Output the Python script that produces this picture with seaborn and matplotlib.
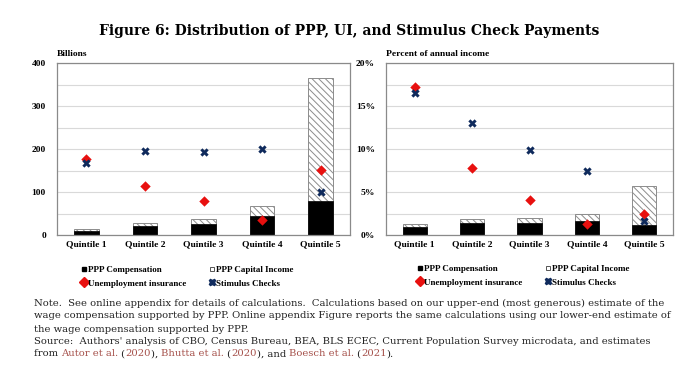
import numpy as np
import matplotlib
matplotlib.use("Agg")
import matplotlib.pyplot as plt
import seaborn as sns
from matplotlib.lines import Line2D
from matplotlib.ticker import MultipleLocator, FuncFormatter
from matplotlib.text import Annotation

# data
quintiles = ["Quintile 1", "Quintile 2", "Quintile 3", "Quintile 4", "Quintile 5"]

# left panel, billions
ppp_comp_bn = [8.5, 20, 26, 44, 78]
ppp_total_bn = [14, 27, 37, 67, 366]
ui_bn = [177, 115, 78, 36, 152]
stim_bn = [168, 195, 192, 201, 100]

# right panel, percent of annual income
ppp_comp_pct = [0.9, 1.35, 1.35, 1.65, 1.2]
ppp_total_pct = [1.3, 1.85, 1.95, 2.5, 5.7]
ui_pct = [17.2, 7.75, 4.05, 1.3, 2.4]
stim_pct = [16.5, 13.0, 9.9, 7.5, 1.6]

legend_labels = ["PPP Compensation", "Unemployment insurance",
                 "PPP Capital Income", "Stimulus Checks"]

RED = "#e8100f"
NAVY = "#0f2a5c"
HATCH_GRAY = "#8c8c8c"
TICK_FONT = "Liberation Serif"
TEXT_FONT = "DejaVu Serif"

sns.set_style("white")
plt.rcParams["hatch.linewidth"] = 0.7
plt.rcParams["hatch.color"] = HATCH_GRAY
plt.rcParams["text.color"] = "black"
plt.rcParams["xtick.color"] = "black"
plt.rcParams["ytick.color"] = "black"
plt.rcParams["font.family"] = [TICK_FONT, "DejaVu Serif"]

W, H = 699, 366
fig = plt.figure(figsize=(W / 100, H / 100), dpi=100)


def px_axes(left, top, right, bottom):
    return fig.add_axes([left / W, 1 - bottom / H, (right - left) / W,
                         (bottom - top) / H])


def draw_panel(ax, comp, total, ui, stim, ymax, major, minor, fmt, ylabel):
    sns.barplot(x=quintiles, y=total, color="white", edgecolor=HATCH_GRAY,
                hatch="\\\\\\\\\\", linewidth=0.7, width=0.42, saturation=1,
                ax=ax, zorder=2)
    sns.barplot(x=quintiles, y=comp, color="black", edgecolor="black",
                linewidth=0.5, width=0.42, saturation=1, ax=ax, zorder=2)
    sns.stripplot(x=quintiles, y=ui, jitter=False, marker="D", color=RED,
                  size=5.3, linewidth=0, ax=ax, zorder=4)
    sns.stripplot(x=quintiles, y=stim, jitter=False, marker="X", color=NAVY,
                  size=6, linewidth=0, ax=ax, zorder=5)

    ax.set_xlim(-0.5, 4.5)
    ax.set_ylim(0, ymax)
    ax.yaxis.set_major_locator(MultipleLocator(major))
    ax.yaxis.set_minor_locator(MultipleLocator(minor))
    ax.yaxis.set_major_formatter(FuncFormatter(fmt))
    ax.grid(False)
    ax.yaxis.grid(True, which="both", color="#d9d9d9", linewidth=0.8)
    ax.set_axisbelow(True)
    for s in ax.spines.values():
        s.set_color("#8a8a8a")
        s.set_linewidth(0.9)
    ax.tick_params(length=0, labelsize=6.8, pad=8)
    ax.tick_params(axis="x", pad=4)
    for lab in ax.get_xticklabels() + ax.get_yticklabels():
        lab.set_fontweight("bold")
        lab.set_fontfamily(TICK_FONT)
    ax.set_xlabel("")
    ax.set_ylabel("")
    ax.text(0, 1.03, ylabel, transform=ax.transAxes, ha="left", va="bottom",
            fontsize=6.8, fontweight="bold", fontfamily=TICK_FONT)


def add_legend(ax, x_px, y_px, colspace):
    handles = [
        Line2D([], [], marker="s", linestyle="none", color="black",
               markersize=3.5),
        Line2D([], [], marker="D", linestyle="none", color=RED,
               markersize=5),
        Line2D([], [], marker="s", linestyle="none", markerfacecolor="white",
               markeredgecolor="#555555", markeredgewidth=0.7, markersize=3.5),
        Line2D([], [], marker="X", linestyle="none", color=NAVY,
               markersize=5),
    ]
    ax.legend(handles, legend_labels, ncol=2, loc="upper left",
              bbox_to_anchor=(x_px / W, 1 - y_px / H),
              bbox_transform=fig.transFigure, frameon=False,
              handlelength=0.6, handletextpad=0.15, columnspacing=colspace,
              labelspacing=0.55, borderpad=0, borderaxespad=0,
              prop={"family": TICK_FONT, "weight": "bold", "size": 6.5})


ax1 = px_axes(57, 63, 350, 235)
draw_panel(ax1, ppp_comp_bn, ppp_total_bn, ui_bn, stim_bn, 400, 100, 50,
           lambda v, p: f"{v:.0f}", "Billions")
add_legend(ax1, 81, 266, 2.6)

ax2 = px_axes(386, 63, 673, 235)
draw_panel(ax2, ppp_comp_pct, ppp_total_pct, ui_pct, stim_pct, 20, 5, 2.5,
           lambda v, p: f"{v:.0f}%", "Percent of annual income")
add_legend(ax2, 417, 265, 2.6)

fig.text(0.5, 1 - 31 / H,
         "Figure 6: Distribution of PPP, UI, and Stimulus Check Payments",
         ha="center", va="center", fontsize=10.0, fontweight="bold",
         fontfamily=TEXT_FONT, color="black")

note_lines = [
    "Note.  See online appendix for details of calculations.  Calculations "
    "based on our upper-end (most generous) estimate of the",
    "wage compensation supported by PPP. Online appendix Figure reports the "
    "same calculations using our lower-end estimate of",
    "the wage compensation supported by PPP.",
    "Source:  Authors' analysis of CBO, Census Bureau, BEA, BLS ECEC, Current "
    "Population Survey microdata, and estimates",
]
note_y = [303, 316, 329, 342]
NOTE_SIZE = 7.2
note_kw = dict(fontsize=NOTE_SIZE, fontfamily=TEXT_FONT, va="center",
               ha="left", color="#222222")
for line, y in zip(note_lines, note_y):
    fig.text(34 / W, 1 - y / H, line, **note_kw)

CITE = "#a5504a"
last_pieces = [("from ", "#222222"), ("Autor et al.", CITE), (" (", "#222222"),
               ("2020", CITE), ("), ", "#222222"), ("Bhutta et al.", CITE),
               (" (", "#222222"), ("2020", CITE), ("), and ", "#222222"),
               ("Boesch et al.", CITE), (" (", "#222222"), ("2021", CITE),
               (").", "#222222")]
kw = dict(note_kw)
kw.pop("color")
prev = fig.text(34 / W, 1 - 354 / H, last_pieces[0][0],
                color=last_pieces[0][1], **kw)
for s, c in last_pieces[1:]:
    ann = Annotation(s, xy=(1, 0.5), xycoords=prev, color=c,
                     fontsize=NOTE_SIZE, fontfamily=TEXT_FONT, va="center",
                     ha="left")
    fig.add_artist(ann)
    prev = ann

fig.savefig("out.png", dpi=100)
